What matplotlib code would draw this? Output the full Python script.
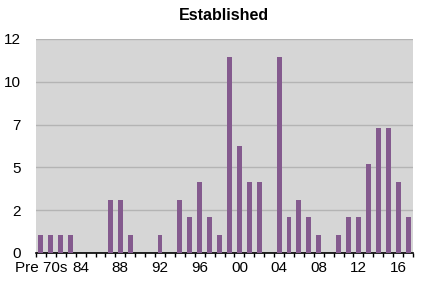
import matplotlib
matplotlib.use("Agg")
import matplotlib.pyplot as plt
import numpy as np

categories = ["Pre 70s"] + [f"{y % 100:02d}" for y in range(1981, 2018)]
values = [1, 1, 1, 1, 0, 0, 0, 3, 3, 1, 0, 0, 1, 0, 3, 2, 4, 2, 1, 11,
          6, 4, 4, 0, 11, 2, 3, 2, 1, 0, 1, 2, 2, 5, 7, 7, 4, 2]
ytick_values = [0, 2.4, 4.8, 7.2, 9.6, 12]
ytick_labels = ["0", "2", "5", "7", "10", "12"]
shown_labels = {0: "Pre 70s", 4: "84", 8: "88", 12: "92", 16: "96", 20: "00",
                24: "04", 28: "08", 32: "12", 36: "16"}

plt.rcParams['font.family'] = ['Liberation Sans', 'DejaVu Sans']

fig = plt.figure(figsize=(4.32, 2.85), dpi=100)
ax = fig.add_axes([36/432, 32/285, 377/432, 214/285])
ax.set_facecolor("#d6d6d6")

x = np.arange(len(categories))
ax.bar(x, values, width=0.5, color="#845a8e", zorder=3)

ax.set_xlim(-0.5, len(categories) - 0.5)
ax.set_ylim(0, 12)
ax.set_yticks(ytick_values)
ax.set_yticklabels(ytick_labels, fontsize=11)
ax.yaxis.grid(True, color="#b4b4b4", linewidth=1, zorder=1)
ax.tick_params(axis='y', length=0, pad=11)

# minor ticks at category boundaries, labels at selected category centres
ax.set_xticks(np.arange(-0.5, len(categories), 1.0), minor=True)
ax.set_xticks(list(shown_labels.keys()))
ax.set_xticklabels(list(shown_labels.values()), fontsize=11)
ax.tick_params(axis='x', which='major', length=0, pad=6)
ax.tick_params(axis='x', which='minor', length=3, width=1, color="black", direction='out')

for s in ["top", "right", "left"]:
    ax.spines[s].set_visible(False)
ax.spines["bottom"].set_color("black")
ax.spines["bottom"].set_linewidth(1.2)

fig.text(224/432, 1 - 16/285, "Established", ha="center", va="center",
         fontsize=11.5, fontweight="bold")

fig.savefig("out.png", dpi=100)
